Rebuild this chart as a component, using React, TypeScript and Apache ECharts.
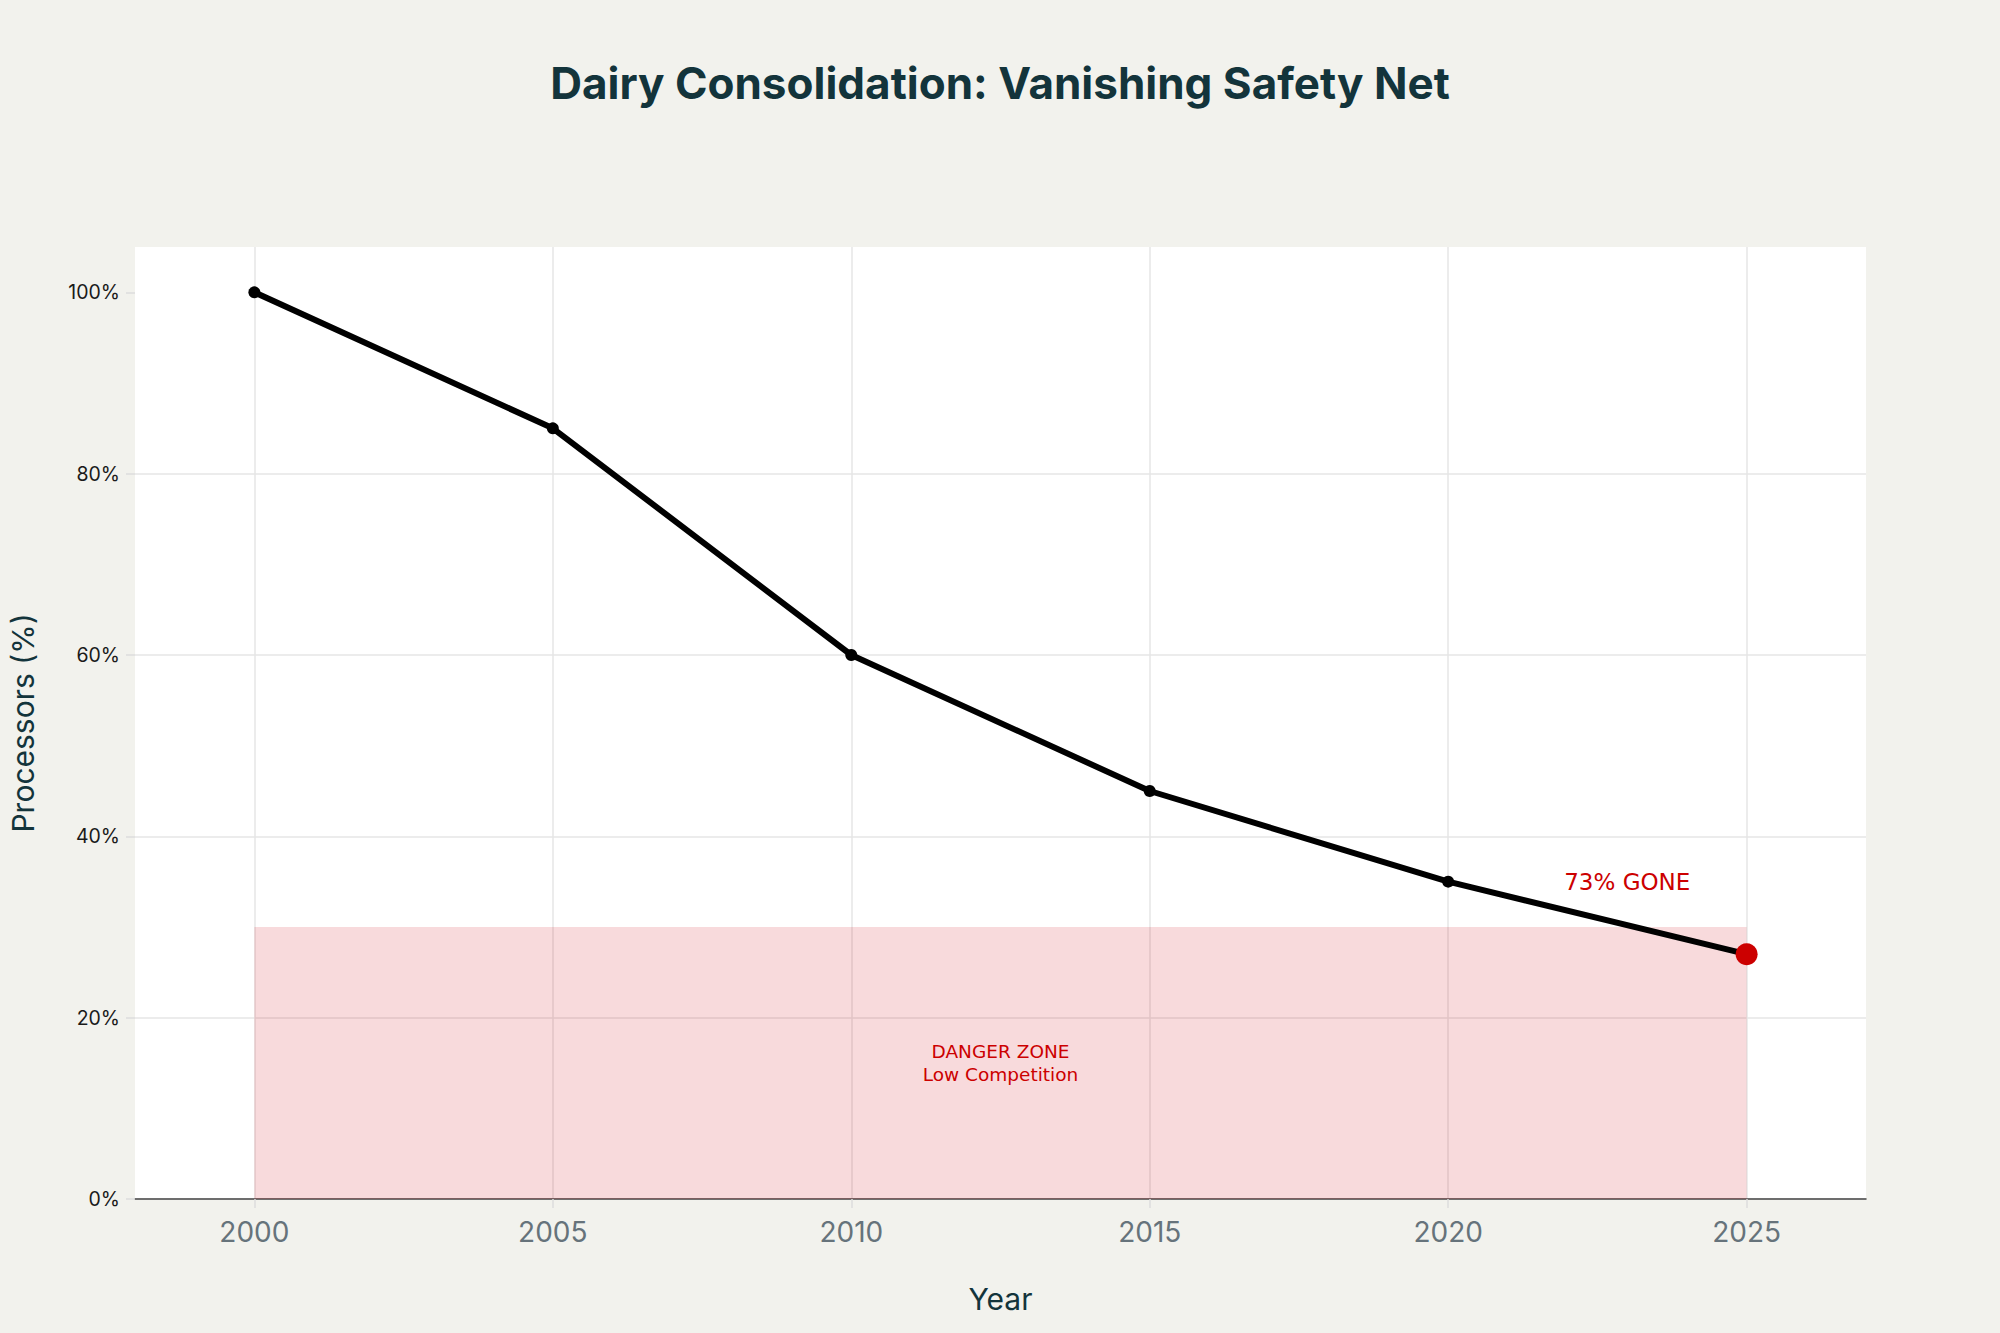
import React, { useEffect, useRef } from "react";
import * as echarts from "echarts";

const axisYears = [
  "1998", "1999", "2000", "2001", "2002", "2003", "2004", "2005", "2006", "2007",
  "2008", "2009", "2010", "2011", "2012", "2013", "2014", "2015", "2016", "2017",
  "2018", "2019", "2020", "2021", "2022", "2023", "2024", "2025", "2026", "2027",
];
const years = ["2000", "2005", "2010", "2015", "2020", "2025"];
const processors = [100, 85, 60, 45, 35, 27];
const yTicks = [0, 20, 40, 60, 80, 100];
const dangerZone = { from: "2000", to: "2025", top: 30 };
const goneLabel = { year: "2023", value: 35, text: "73% GONE" };

const TEAL = "#13343B";
const RED = "#CC0000";

export default function App() {
  const ref = useRef<HTMLDivElement>(null);

  useEffect(() => {
    if (!ref.current) return;
    const chart = echarts.init(ref.current, null, { renderer: "svg" });
    const labelYear = (_i: number, v: string) => Number(v) % 5 === 0;
    const lastIdx = years.length - 1;
    chart.setOption({
      animation: false,
      backgroundColor: "#F2F2ED",
      title: {
        text: "Dairy Consolidation: Vanishing Safety Net",
        left: "center",
        top: 56,
        textStyle: {
          fontFamily: "Inter, sans-serif",
          fontSize: 44,
          fontWeight: "bold",
          color: TEAL,
        },
      },
      grid: {
        left: 133,
        right: 134,
        top: 247,
        bottom: 134,
        show: true,
        backgroundColor: "#ffffff",
        borderWidth: 0,
      },
      xAxis: {
        type: "category",
        data: axisYears,
        boundaryGap: false,
        name: "Year",
        nameLocation: "middle",
        nameGap: 85,
        nameTextStyle: { fontFamily: "Inter, sans-serif", fontSize: 30, color: TEAL },
        axisLine: { show: true, lineStyle: { color: "#444444", width: 1.5 } },
        axisTick: {
          show: true,
          interval: labelYear,
          alignWithLabel: true,
          length: 9,
          lineStyle: { color: "#dddddd", width: 1.5 },
        },
        axisLabel: {
          interval: labelYear,
          margin: 19,
          fontFamily: "Inter, sans-serif",
          fontSize: 28,
          color: "#66737B",
        },
        splitLine: {
          show: true,
          interval: labelYear,
          lineStyle: { color: "#e6e6e6", width: 1.5 },
        },
      },
      yAxis: {
        type: "value",
        min: 0,
        max: 105,
        interval: 20,
        name: "Processors (%)",
        nameLocation: "middle",
        nameGap: 97,
        nameTextStyle: { fontFamily: "Inter, sans-serif", fontSize: 30, color: TEAL },
        axisLine: { show: false },
        axisTick: {
          show: true,
          length: 9,
          customValues: yTicks,
          lineStyle: { color: "#dddddd", width: 1.5 },
        },
        axisLabel: {
          customValues: yTicks,
          margin: 15,
          fontFamily: "Inter, sans-serif",
          fontSize: 19.5,
          color: "#1a1a1a",
          formatter: (v: number) => `${v}%`,
        },
        splitLine: {
          show: true,
          showMaxLine: false,
          lineStyle: { color: "#e6e6e6", width: 1.5 },
        },
      },
      series: [
        {
          type: "line",
          data: years.map((y, i) =>
            i === lastIdx
              ? { value: [y, processors[i]], symbolSize: 22, itemStyle: { color: RED } }
              : [y, processors[i]]
          ),
          symbol: "circle",
          symbolSize: 12,
          itemStyle: { color: "#000000" },
          lineStyle: { color: "#000000", width: 6 },
          z: 5,
          markArea: {
            silent: true,
            itemStyle: { color: "rgba(210, 10, 20, 0.15)" },
            label: {
              show: true,
              position: "inside",
              formatter: "DANGER ZONE\nLow Competition",
              fontFamily: "'DejaVu Sans', sans-serif",
              fontSize: 18.5,
              lineHeight: 23,
              color: RED,
              align: "center",
            },
            data: [
              [
                { xAxis: dangerZone.from, yAxis: 0 },
                { xAxis: dangerZone.to, yAxis: dangerZone.top },
              ],
            ],
          },
          markPoint: {
            silent: true,
            symbol: "circle",
            symbolSize: 1,
            itemStyle: { color: "rgba(0,0,0,0)" },
            label: {
              show: true,
              position: "inside",
              formatter: goneLabel.text,
              fontFamily: "'DejaVu Sans', sans-serif",
              fontSize: 23,
              color: RED,
            },
            data: [{ coord: [goneLabel.year, goneLabel.value] }],
          },
        },
      ],
    });
    return () => chart.dispose();
  }, []);

  return (
    <div
      ref={ref}
      style={{ position: "fixed", left: 0, top: 0, width: 2000, height: 1333 }}
    />
  );
}
